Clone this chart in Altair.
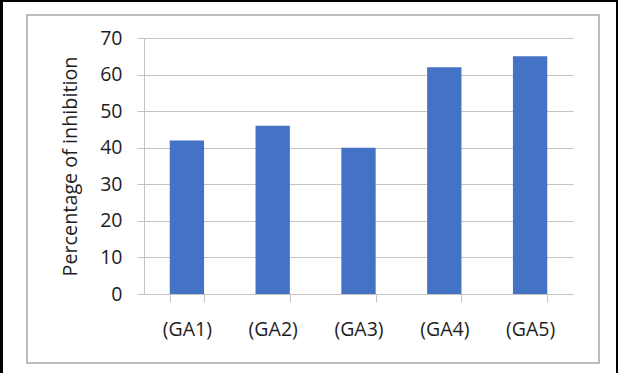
import altair as alt
import pandas as pd

# Inhibition percentages per sample
samples = ["(GA1)", "(GA2)", "(GA3)", "(GA4)", "(GA5)"]
inhibition = [42, 46, 40, 62, 65]
y_ticks = [0, 10, 20, 30, 40, 50, 60, 70]

df = pd.DataFrame({"sample": samples, "inhibition": inhibition})

W, H = 429, 256          # plot area
PAD_L, PAD_T, PAD_R, PAD_B = 144, 38, 45, 79
FONT = "Open Sans"
GRID = "#c4c4c4"
INK = "#1e1e1e"

bars = alt.Chart(df).mark_bar(color="#4472C4").encode(
    x=alt.X(
        "sample:N",
        sort=samples,
        scale=alt.Scale(paddingInner=0.6, paddingOuter=0.3),
        axis=alt.Axis(
            title=None, labelAngle=0, tickBand="extent", tickSize=8,
            tickColor=GRID, domainColor=GRID, labelPadding=18,
            labelFontSize=19.5, labelFont=FONT, labelColor=INK,
            grid=False,
        ),
    ),
    y=alt.Y(
        "inhibition:Q",
        scale=alt.Scale(domain=[0, 70], nice=False),
        axis=alt.Axis(
            values=y_ticks, title="Percentage of inhibition",
            titleFont=FONT, titleFontSize=19.8, titleFontWeight="normal",
            titleColor=INK, titleAngle=270, titleX=-74, titleY=128,
            titleAlign="center", titleBaseline="middle",
            tickSize=7, tickColor=GRID, domainColor=GRID,
            gridColor=GRID, labelPadding=15, labelFontSize=19.5,
            labelFont=FONT, labelColor=INK,
        ),
    ),
)

one = alt.Data(values=[{"k": 1}])

# Gray inner frame and black page edge around the chart
frame = alt.Chart(one).mark_rect(
    fill=None, stroke="#bcbcbc", strokeWidth=2
).encode(
    x=alt.value(27 - PAD_L), x2=alt.value(599 - PAD_L),
    y=alt.value(15 - PAD_T), y2=alt.value(363 - PAD_T),
)
edge_left = alt.Chart(one).mark_rule(color="black", strokeWidth=3).encode(
    x=alt.value(1.5 - PAD_L), y=alt.value(-PAD_T), y2=alt.value(H + PAD_B)
)
edge_right = alt.Chart(one).mark_rule(color="black", strokeWidth=2).encode(
    x=alt.value(617 - PAD_L), y=alt.value(-PAD_T), y2=alt.value(H + PAD_B)
)
edge_top = alt.Chart(one).mark_rule(color="black", strokeWidth=2).encode(
    x=alt.value(-PAD_L), x2=alt.value(W + PAD_R), y=alt.value(1 - PAD_T)
)

chart = alt.layer(frame, edge_left, edge_right, edge_top, bars).properties(
    width=W, height=H,
    autosize=alt.AutoSizeParams(type="none"),
    padding={"left": PAD_L, "top": PAD_T, "right": PAD_R, "bottom": PAD_B},
    background="white",
).configure_view(stroke=None)

chart.save("out.html", embed_options={"renderer": "svg", "actions": False})
